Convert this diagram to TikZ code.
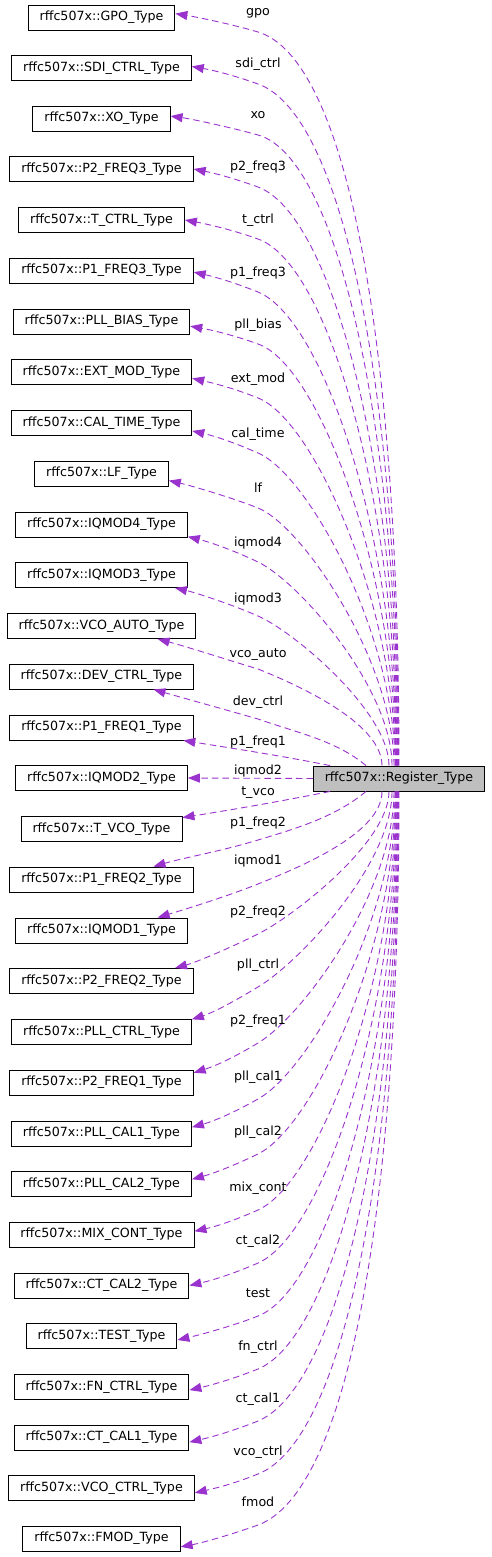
\documentclass[tikz,border=0pt]{standalone}
\usepackage{fontspec}
\setmainfont{DejaVu Sans}
\usepackage{tikz}
\usetikzlibrary{arrows.meta,calc}
\definecolor{linkpurple}{HTML}{9A32CD}
\definecolor{regfill}{HTML}{BFBFBF}

\begin{document}
\begin{tikzpicture}[
      x=1pt, y=-1pt,
      box/.style={rectangle, draw=black, fill=white, line width=0.9pt, minimum height=25pt,
                  inner xsep=11.5pt, inner ysep=0pt, font=\fontsize{12.65}{15}\selectfont},
      regbox/.style={box, fill=regfill},
      link/.style={-{Triangle[length=12pt,width=9pt]}, linkpurple, line width=0.9pt,
                   dash pattern=on 6.5pt off 4pt},
      lbl/.style={anchor=base, inner sep=0pt, text=black, font=\fontsize{12.65}{15}\selectfont},
    ]
    \useasboundingbox (0,0) rectangle (492,1557);

    % member types
    \node[box] (gpo)     at (101.5,17.5)   {rffc507x::GPO\_Type};
    \node[box] (sdictrl) at (101.5,68)     {rffc507x::SDI\_CTRL\_Type};
    \node[box] (xo)      at (101.5,118.5)  {rffc507x::XO\_Type};
    \node[box] (p2freq3) at (101.5,169)    {rffc507x::P2\_FREQ3\_Type};
    \node[box] (tctrl)   at (101.5,220)    {rffc507x::T\_CTRL\_Type};
    \node[box] (p1freq3) at (101.5,270.5)  {rffc507x::P1\_FREQ3\_Type};
    \node[box] (pllbias) at (101.5,321.5)  {rffc507x::PLL\_BIAS\_Type};
    \node[box] (extmod)  at (101.5,372)    {rffc507x::EXT\_MOD\_Type};
    \node[box] (caltime) at (101.5,423)    {rffc507x::CAL\_TIME\_Type};
    \node[box] (lf)      at (101.5,473.5)  {rffc507x::LF\_Type};
    \node[box] (iqmod4)  at (101.5,524.5)  {rffc507x::IQMOD4\_Type};
    \node[box] (iqmod3)  at (101.5,575)    {rffc507x::IQMOD3\_Type};
    \node[box] (vcoauto) at (101.5,626)    {rffc507x::VCO\_AUTO\_Type};
    \node[box] (devctrl) at (101.5,676.5)  {rffc507x::DEV\_CTRL\_Type};
    \node[box] (p1freq1) at (101.5,727.5)  {rffc507x::P1\_FREQ1\_Type};
    \node[box] (iqmod2)  at (101.5,778)    {rffc507x::IQMOD2\_Type};
    \node[box] (tvco)    at (101.5,829)    {rffc507x::T\_VCO\_Type};
    \node[box] (p1freq2) at (101.5,879.5)  {rffc507x::P1\_FREQ2\_Type};
    \node[box] (iqmod1)  at (101.5,930.5)  {rffc507x::IQMOD1\_Type};
    \node[box] (p2freq2) at (101.5,981)    {rffc507x::P2\_FREQ2\_Type};
    \node[box] (pllctrl) at (101.5,1032)   {rffc507x::PLL\_CTRL\_Type};
    \node[box] (p2freq1) at (101.5,1082.5) {rffc507x::P2\_FREQ1\_Type};
    \node[box] (pllcal1) at (101.5,1133.5) {rffc507x::PLL\_CAL1\_Type};
    \node[box] (pllcal2) at (101.5,1184)   {rffc507x::PLL\_CAL2\_Type};
    \node[box] (mixcont) at (101.5,1234.5) {rffc507x::MIX\_CONT\_Type};
    \node[box] (ctcal2)  at (101.5,1285.5) {rffc507x::CT\_CAL2\_Type};
    \node[box] (test)    at (101.5,1336)   {rffc507x::TEST\_Type};
    \node[box] (fnctrl)  at (101.5,1387)   {rffc507x::FN\_CTRL\_Type};
    \node[box] (ctcal1)  at (101.5,1437.5) {rffc507x::CT\_CAL1\_Type};
    \node[box] (vcoctrl) at (101.5,1488)   {rffc507x::VCO\_CTRL\_Type};
    \node[box] (fmod)    at (101.5,1538.5) {rffc507x::FMOD\_Type};

    % the register struct
    \node[regbox] (reg) at (399,778.5) {rffc507x::Register\_Type};

    % upper members (each passes just under its label)
    \draw[link] (reg.north) .. controls +(0,-420) and +(90,27) .. (258,32)
      .. controls +(-25,-7.5) and +(22,3.5) .. (gpo.3)
      node[lbl] (lgpo) at (258,16) {gpo};
    \draw[link] ([xshift=-0.5pt]reg.north) .. controls +(0,-376) and +(85,30) .. (258,84)
      .. controls +(-25,-9) and +(22,4) .. (sdictrl.1)
      node[lbl] (lsdictrl) at (258,68) {sdi\_ctrl};
    \draw[link] ([xshift=-1pt]reg.north) .. controls +(0,-336) and +(80,22) .. (258,135)
      .. controls +(-25,-7) and +(22,3) .. (xo.2)
      node[lbl] (lxo) at (258,119) {xo};
    \draw[link] ([xshift=-1.5pt]reg.north) .. controls +(0,-298) and +(75,28) .. (258,187)
      .. controls +(-25,-9) and +(22,4.5) .. (p2freq3.0)
      node[lbl] (lp2freq3) at (258,171) {p2\_freq3};
    \draw[link] ([xshift=-2pt]reg.north) .. controls +(0,-261) and +(71,25) .. (258,239)
      .. controls +(-25,-9) and +(22,4) .. (tctrl.0)
      node[lbl] (ltctrl) at (258,223) {t\_ctrl};
    \draw[link] ([xshift=-2.5pt]reg.north) .. controls +(0,-226) and +(66,27) .. (258,292)
      .. controls +(-25,-10) and +(22,5) .. (p1freq3.-1)
      node[lbl] (lp1freq3) at (258,276) {p1\_freq3};
    \draw[link] ([xshift=-3pt]reg.north) .. controls +(0,-193) and +(61,21) .. (258,344)
      .. controls +(-25,-9) and +(22,4) .. (pllbias.-3)
      node[lbl] (lpllbias) at (258,328) {pll\_bias};
    \draw[link] ([xshift=-3.5pt]reg.north) .. controls +(0,-161) and +(56,22) .. (258,398)
      .. controls +(-25,-10) and +(22,5) .. (extmod.-4)
      node[lbl] (lextmod) at (258,382) {ext\_mod};
    \draw[link] ([xshift=-4pt]reg.north) .. controls +(0,-131) and +(51,22) .. (258,453)
      .. controls +(-25,-11) and +(22,5) .. (caltime.-5)
      node[lbl] (lcaltime) at (258,437) {cal\_time};
    \draw[link] ([xshift=-5pt]reg.north) .. controls +(0,-103) and +(45,18) .. (258,508)
      .. controls +(-25,-10) and +(22,5) .. (lf.-6)
      node[lbl] (llf) at (258,492) {lf};
    \draw[link] ([xshift=-7pt]reg.north) .. controls +(0,-78) and +(40,19) .. (258,562)
      .. controls +(-25,-12) and +(22,5.5) .. (iqmod4.-8)
      node[lbl] (liqmod4) at (258,546) {iqmod4};
    \draw[link] ([xshift=-10pt]reg.north) .. controls +(0,-54) and +(35,15) .. (258,616)
      .. controls +(-25,-11) and +(22,5) .. (iqmod3.-10)
      node[lbl] (liqmod3) at (258,602) {iqmod3};
    \draw[link] ([xshift=-17pt]reg.north) .. controls +(0,-40) and +(50,20) .. (258,669)
      .. controls +(-30,-9) and +(30,8) .. (vcoauto.-13)
      node[lbl] (lvcoauto) at (258,657) {vco\_auto};
    \draw[link] ([xshift=-33pt]reg.north) .. controls +(-30,-25) and +(40,14) .. (258,719)
      .. controls +(-35,-10) and +(35,10) .. (devctrl.-14)
      node[lbl] (ldevctrl) at (258,705) {dev\_ctrl};
    \draw[link] ([xshift=-69pt]reg.north) .. controls +(-50,-10) and +(50,8) .. (p1freq1.-9)
      node[lbl] (lp1freq1) at (258,745) {p1\_freq1};

    \draw[link] (reg.west) -- (iqmod2.east)
      node[lbl] (liqmod2) at (258,774) {iqmod2};

    % lower members
    \draw[link] ([xshift=-69pt]reg.south) .. controls +(-50,10) and +(50,-8) .. (tvco.8)
      node[lbl] (ltvco) at (258,795) {t\_vco};
    \draw[link] ([xshift=-33pt]reg.south) .. controls +(-30,25) and +(40,-12) .. (258,840)
      .. controls +(-40,12) and +(35,-10) .. (p1freq2.14)
      node[lbl] (lp1freq2) at (258,826) {p1\_freq2};
    \draw[link] ([xshift=-17pt]reg.south) .. controls +(0,40) and +(50,-20) .. (258,884)
      .. controls +(-30,12) and +(30,-9) .. (iqmod1.13)
      node[lbl] (liqmod1) at (258,864) {iqmod1};
    \draw[link] ([xshift=-10pt]reg.south) .. controls +(0,51) and +(35,-17.5) .. (258,934)
      .. controls +(-25,12.5) and +(22,-6) .. (p2freq2.10)
      node[lbl] (lp2freq2) at (258,915) {p2\_freq2};
    \draw[link] ([xshift=-7pt]reg.south) .. controls +(0,74) and +(39,-23) .. (258,987)
      .. controls +(-25,15) and +(22,-7) .. (pllctrl.8)
      node[lbl] (lpllctrl) at (258,968) {pll\_ctrl};
    \draw[link] ([xshift=-5pt]reg.south) .. controls +(0,100) and +(45,-27) .. (258,1043)
      .. controls +(-25,15) and +(22,-7) .. (p2freq1.6)
      node[lbl] (lp2freq1) at (258,1024) {p2\_freq1};
    \draw[link] ([xshift=-4pt]reg.south) .. controls +(0,128) and +(50,-27.5) .. (258,1099)
      .. controls +(-25,14) and +(22,-6) .. (pllcal1.4)
      node[lbl] (lpllcal1) at (258,1080) {pll\_cal1};
    \draw[link] ([xshift=-3.5pt]reg.south) .. controls +(0,158) and +(55,-27) .. (258,1154)
      .. controls +(-25,12) and +(22,-6) .. (pllcal2.3)
      node[lbl] (lpllcal2) at (258,1135) {pll\_cal2};
    \draw[link] ([xshift=-3pt]reg.south) .. controls +(0,191) and +(60,-27) .. (258,1210)
      .. controls +(-25,11) and +(22,-5) .. (mixcont.2)
      node[lbl] (lmixcont) at (258,1191) {mix\_cont};
    \draw[link] ([xshift=-2.5pt]reg.south) .. controls +(0,224) and +(65,-28.5) .. (258,1263)
      .. controls +(-25,11) and +(22,-5) .. (ctcal2.0)
      node[lbl] (lctcal2) at (258,1244) {ct\_cal2};
    \draw[link] ([xshift=-2pt]reg.south) .. controls +(0,259) and +(70,-27) .. (258,1316)
      .. controls +(-25,10) and +(22,-5) .. (test.-3)
      node[lbl] (ltest) at (258,1297) {test};
    \draw[link] ([xshift=-1.5pt]reg.south) .. controls +(0,297) and +(75,-31) .. (258,1369)
      .. controls +(-25,10) and +(22,-5) .. (fnctrl.-2)
      node[lbl] (lfnctrl) at (258,1350) {fn\_ctrl};
    \draw[link] ([xshift=-1pt]reg.south) .. controls +(0,335) and +(80,-33) .. (258,1421)
      .. controls +(-25,10) and +(22,-5) .. (ctcal1.-3)
      node[lbl] (lctcal1) at (258,1402) {ct\_cal1};
    \draw[link] ([xshift=-0.5pt]reg.south) .. controls +(0,376) and +(85,-33) .. (258,1474)
      .. controls +(-25,10) and +(22,-5) .. (vcoctrl.-3)
      node[lbl] (lvcoctrl) at (258,1455) {vco\_ctrl};
    \draw[link] (reg.south) .. controls +(0,418) and +(90,-33) .. (258,1525)
      .. controls +(-25,9) and +(22,-4) .. (fmod.-6)
      node[lbl] (lfmod) at (258,1506) {fmod};
  \end{tikzpicture}
\end{document}
